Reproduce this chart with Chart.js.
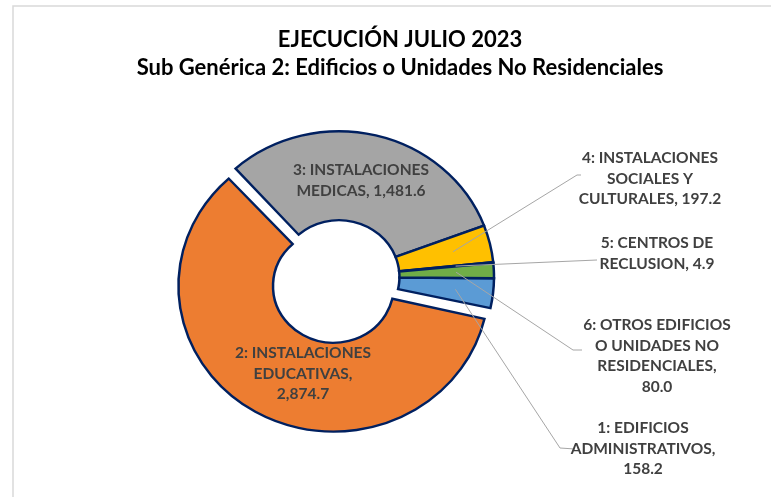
<!DOCTYPE html>
<html>
<head>
<meta charset="utf-8">
<script src="https://cdn.jsdelivr.net/npm/chart.js@4"></script>
<style>
  html, body { margin: 0; padding: 0; background: #fff; }
  #wrap { width: 771px; height: 497px; }
</style>
</head>
<body>
<div id="wrap"><canvas id="chart" width="771" height="497"></canvas></div>
<script>
// ---- data ----
const titleLines = ["EJECUCIÓN JULIO 2023", "Sub Genérica 2: Edificios o Unidades No Residenciales"];
const codes = [1, 2, 3, 4, 5, 6];
const categories = [
    "EDIFICIOS ADMINISTRATIVOS",
    "INSTALACIONES EDUCATIVAS",
    "INSTALACIONES MEDICAS",
    "INSTALACIONES SOCIALES Y CULTURALES",
    "CENTROS DE RECLUSION",
    "OTROS EDIFICIOS O UNIDADES NO RESIDENCIALES"
];
const values = [158.2, 2874.7, 1481.6, 197.2, 4.9, 80.0];

// ---- style ----
const sliceColors = ["#5b9bd5", "#ed7d31", "#a5a5a5", "#ffc000", "#4472c4", "#70ad47"];
const sliceOffsets = [0, 44, 0, 0, 0, 0];   // chart.js moves an arc by offset / 4
const FONT = "Lato, 'Open Sans', sans-serif";
const SQUASH = 0.94;                        // the original pie is slightly flattened

// where each data label sits (first line centre), wrap width, leader elbow / end
const labelLayout = [
    { x: 643, y: 428, wrap: 150, valueLine: true, elbow: [560, 448], end: [575, 449] },
    { x: 303, y: 353, wrap: 150, valueLine: true },
    { x: 361, y: 170, wrap: 160 },
    { x: 650, y: 158, wrap: 150, elbow: [577, 175], end: [581, 175] },
    { x: 657, y: 243, wrap: 120, elbow: [597, 260] },
    { x: 657, y: 325, wrap: 150, valueLine: true, elbow: [573, 350], end: [582, 350] }
];

function fmt(v) {
    return v.toLocaleString("en-US", { minimumFractionDigits: 1, maximumFractionDigits: 1 });
}

function wrapText(ctx, text, maxW) {
    const words = text.split(" ");
    const lines = [];
    let cur = "";
    words.forEach(w => {
        const test = cur ? cur + " " + w : w;
        if (cur && ctx.measureText(test).width > maxW) {
            lines.push(cur);
            cur = w;
        } else {
            cur = test;
        }
    });
    if (cur) lines.push(cur);
    return lines;
}

// frame + titles
const frameAndTitle = {
    id: "frameAndTitle",
    beforeDraw(chart) {
        const ctx = chart.ctx;
        ctx.save();
        ctx.fillStyle = "#ffffff";
        ctx.fillRect(0, 0, chart.width, chart.height);
        ctx.strokeStyle = "#d9d9d9";
        ctx.lineWidth = 1.5;
        ctx.beginPath();
        ctx.moveTo(13, chart.height + 5);
        ctx.lineTo(13, 6);
        ctx.lineTo(chart.width + 5, 6);
        ctx.stroke();
        ctx.fillStyle = "#000000";
        ctx.textAlign = "center";
        ctx.textBaseline = "middle";
        ctx.font = "bold 22px " + FONT;
        ctx.fillText(titleLines[0], 400, 40);
        ctx.fillText(titleLines[1], 400, 68);
        ctx.restore();
    }
};

// flatten the ring a little and make exploded arcs move without growing
const ringShape = {
    id: "ringShape",
    beforeDatasetDraw(chart, args) {
        const ctx = chart.ctx;
        const arcs = args.meta.data;
        const cx = arcs[0].x, cy = arcs[0].y;
        ctx.save();
        ctx.translate(cx, cy);
        ctx.scale(1, SQUASH);
        ctx.translate(-cx, -cy);
        arcs.forEach(arc => {
            const off = (arc.options.offset || 0) / 4;
            const grow = off * (1 - Math.sin(Math.min(Math.PI, arc.circumference)));
            arc.$grow = grow;
            arc.outerRadius -= grow;
            arc.innerRadius -= grow;
        });
    },
    afterDatasetDraw(chart, args) {
        args.meta.data.forEach(arc => {
            arc.outerRadius += arc.$grow || 0;
            arc.innerRadius += arc.$grow || 0;
        });
        chart.ctx.restore();
    }
};

const dataLabels = {
    id: "dataLabels",
    afterDatasetsDraw(chart) {
        const ctx = chart.ctx;
        const arcs = chart.getDatasetMeta(0).data;
        ctx.save();
        ctx.font = "bold 15.5px " + FONT;
        arcs.forEach((arc, i) => {
            const lay = labelLayout[i];
            if (lay.elbow) {
                const mid = (arc.startAngle + arc.endAngle) / 2;
                const r = arc.innerRadius + 0.6 * (arc.outerRadius - arc.innerRadius);
                ctx.strokeStyle = "#a6a6a6";
                ctx.lineWidth = 1;
                ctx.beginPath();
                ctx.moveTo(arc.x + Math.cos(mid) * r, arc.y + Math.sin(mid) * r * SQUASH);
                ctx.lineTo(lay.elbow[0], lay.elbow[1]);
                if (lay.end) ctx.lineTo(lay.end[0], lay.end[1]);
                ctx.stroke();
            }
            const name = codes[i] + ": " + categories[i] + ",";
            let lines;
            if (lay.valueLine) {
                lines = wrapText(ctx, name, lay.wrap).concat([fmt(values[i])]);
            } else {
                lines = wrapText(ctx, name + " " + fmt(values[i]), lay.wrap);
            }
            ctx.fillStyle = "#404040";
            ctx.textAlign = "center";
            ctx.textBaseline = "middle";
            lines.forEach((ln, k) => ctx.fillText(ln, lay.x, lay.y + k * 20.5));
        });
        ctx.restore();
    }
};

new Chart(document.getElementById("chart"), {
    type: "doughnut",
    data: {
        labels: categories,
        datasets: [{
            data: values,
            backgroundColor: sliceColors,
            borderColor: "#002060",
            borderWidth: 2.5,
            borderJoinStyle: "miter",
            offset: sliceOffsets
        }]
    },
    options: {
        responsive: false,
        animation: false,
        rotation: 90.5,
        radius: 155,
        cutout: "39%",
        layout: { padding: { left: 0, right: 93, top: 57, bottom: 0 } },
        plugins: {
            legend: { display: false },
            tooltip: { enabled: false },
            title: { display: false }
        }
    },
    plugins: [frameAndTitle, ringShape, dataLabels]
});
</script>
</body>
</html>
